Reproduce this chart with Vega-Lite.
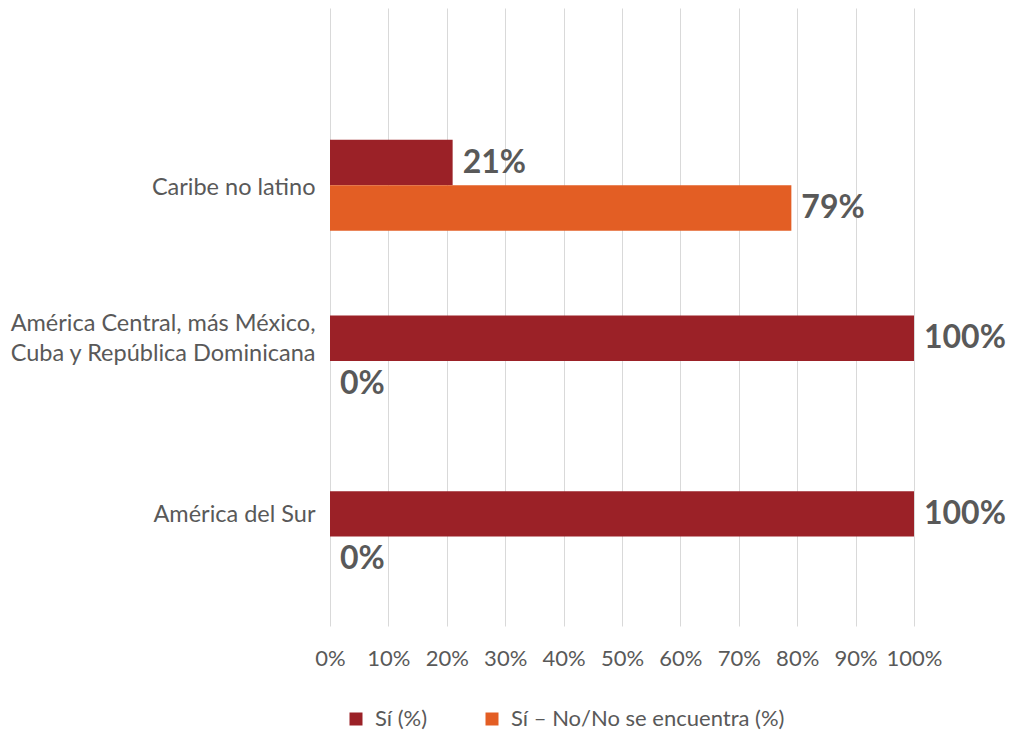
{
  "$schema": "https://vega.github.io/schema/vega-lite/v6.json",
  "autosize": {"type": "none"},
  "width": 584,
  "height": 618,
  "padding": {"left": 330, "top": 8, "right": 98, "bottom": 105},
  "background": "white",
  "config": {
    "view": {"stroke": null},
    "font": "Lato",
    "axis": {"labelFont": "Lato", "labelColor": "#595959", "labelFontSize": 22},
    "legend": {"labelFont": "Lato", "labelColor": "#595959", "labelFontSize": 22}
  },
  "data": {
    "values": [
      {"region": "Caribe no latino", "serie": "Sí (%)", "valor": 0.21},
      {"region": "Caribe no latino", "serie": "Sí – No/No se encuentra (%)", "valor": 0.79},
      {"region": "América Central, más México, Cuba y República Dominicana", "serie": "Sí (%)", "valor": 1.0},
      {"region": "América Central, más México, Cuba y República Dominicana", "serie": "Sí – No/No se encuentra (%)", "valor": 0.0},
      {"region": "América del Sur", "serie": "Sí (%)", "valor": 1.0},
      {"region": "América del Sur", "serie": "Sí – No/No se encuentra (%)", "valor": 0.0}
    ]
  },
  "encoding": {
    "y": {
      "field": "region",
      "type": "nominal",
      "sort": ["Caribe no latino", "América Central, más México, Cuba y República Dominicana", "América del Sur"],
      "scale": {"paddingInner": 0.4825, "paddingOuter": 0.5, "align": 0.75},
      "axis": {
        "title": null,
        "domain": false,
        "ticks": false,
        "labelPadding": 15,
        "labelFontSize": 23.5,
        "labelOffset": {
          "condition": [
            {"test": "datum.value == 'Caribe no latino'", "value": 3},
            {"test": "datum.value == 'América del Sur'", "value": -22}
          ],
          "value": -37
        },
        "labelLineHeight": 30,
        "labelLimit": 400,
        "labelExpr": "datum.value == 'América Central, más México, Cuba y República Dominicana' ? ['América Central, más México,', 'Cuba y República Dominicana'] : datum.value"
      }
    },
    "yOffset": {
      "field": "serie",
      "type": "nominal",
      "sort": ["Sí (%)", "Sí – No/No se encuentra (%)"],
      "scale": {"paddingInner": 0, "paddingOuter": 0}
    },
    "x": {
      "field": "valor",
      "type": "quantitative",
      "scale": {"domain": [0, 1], "nice": false},
      "axis": {
        "title": null,
        "format": ".0%",
        "values": [0, 0.1, 0.2, 0.3, 0.4, 0.5, 0.6, 0.7, 0.8, 0.9, 1.0],
        "domain": false,
        "ticks": false,
        "grid": true,
        "gridColor": "#D9D9D9",
        "gridWidth": 1,
        "labelPadding": 22,
        "labelFlush": false
      }
    }
  },
  "layer": [
    {
      "mark": {"type": "bar", "strokeWidth": 0},
      "encoding": {
        "color": {
          "field": "serie",
          "type": "nominal",
          "sort": ["Sí (%)", "Sí – No/No se encuentra (%)"],
          "scale": {"domain": ["Sí (%)", "Sí – No/No se encuentra (%)"], "range": ["#9B2127", "#E35E24"]},
          "legend": {
            "title": null,
            "orient": "none",
            "direction": "horizontal",
            "legendX": 15,
            "legendY": 700,
            "symbolType": "square",
            "symbolSize": 169,
            "symbolStrokeWidth": 0,
            "labelOffset": 8,
            "columnPadding": 53,
            "padding": 0,
            "labelLimit": 400
          }
        }
      }
    },
    {
      "mark": {"type": "text", "align": "left", "baseline": "middle", "dx": 10, "font": "Lato", "fontWeight": "bold", "fontSize": 32, "color": "#595959"},
      "encoding": {
        "text": {"field": "valor", "type": "quantitative", "format": ".0%"}
      }
    }
  ]
}
